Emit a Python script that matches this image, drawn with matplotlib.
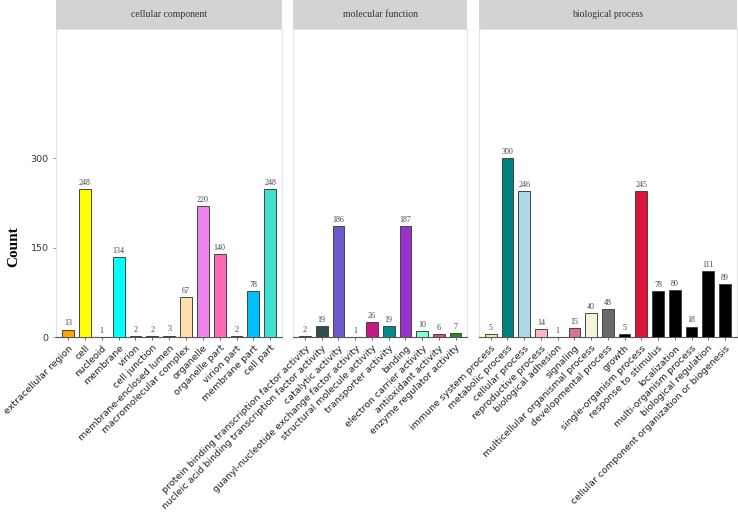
import matplotlib
matplotlib.use('Agg')
import matplotlib.pyplot as plt
from matplotlib.patches import Rectangle

W, H = 738, 513

panels = ['cellular component', 'molecular function', 'biological process']

cc_terms = ['extracellular region', 'cell', 'nucleoid', 'membrane', 'virion',
            'cell junction', 'membrane-enclosed lumen', 'macromolecular complex',
            'organelle', 'organelle part', 'virion part', 'membrane part', 'cell part']
cc_counts = [13, 248, 1, 134, 2, 2, 3, 67, 220, 140, 2, 78, 248]
cc_colors = ['#FFA500', '#FFFF00', '#3A3A2A', '#00FFFF', '#191970', '#3D1F4F',
             '#6B6B2F', '#FFDEAD', '#EE82EE', '#FF69B4', '#333333', '#00BFFF', '#40E0D0']

mf_terms = ['protein binding transcription factor activity',
            'nucleic acid binding transcription factor activity',
            'catalytic activity', 'guanyl-nucleotide exchange factor activity',
            'structural molecule activity', 'transporter activity', 'binding',
            'electron carrier activity', 'antioxidant activity', 'enzyme regulator activity']
mf_counts = [2, 19, 186, 1, 26, 19, 187, 10, 6, 7]
mf_colors = ['#6B2737', '#2F4F4F', '#6A5ACD', '#333333', '#C71585', '#008B8B',
             '#9932CC', '#7FFFD4', '#E0457B', '#228B22']

bp_terms = ['immune system process', 'metabolic process', 'cellular process',
            'reproductive process', 'biological adhesion', 'signaling',
            'multicellular organismal process', 'developmental process', 'growth',
            'single-organism process', 'response to stimulus', 'localization',
            'multi-organism process', 'biological regulation',
            'cellular component organization or biogenesis']
bp_counts = [5, 300, 246, 14, 1, 15, 40, 48, 5, 245, 78, 80, 18, 111, 89]
bp_colors = ['#F0E68C', '#008080', '#ADD8E6', '#FFB6C1', '#808080', '#DB7093',
             '#F5F5DC', '#696969', '#000000', '#DC143C', '#000000', '#000000',
             '#000000', '#000000', '#000000']

y_ticks = [0, 150, 300]

# panel pixel extents (left, right)
extents = [(56.3, 282), (293.3, 467.3), (479, 736.7)]
top_px, bottom_px, strip_px = 29, 337.3, 29

data = [(cc_terms, cc_counts, cc_colors),
        (mf_terms, mf_counts, mf_colors),
        (bp_terms, bp_counts, bp_colors)]

fig = plt.figure(figsize=(W / 100, H / 100), dpi=100)
fig.patch.set_facecolor('white')

for i, (name, (terms, counts, colors)) in enumerate(zip(panels, data)):
  l, r = extents[i]
  ax = fig.add_axes([l / W, 1 - bottom_px / H, (r - l) / W, (bottom_px - top_px) / H])
  x = list(range(len(terms)))
  ax.bar(x, counts, width=0.7, color=colors, edgecolor='#444444', linewidth=0.7, zorder=3)
  for xi, c in zip(x, counts):
    ax.annotate(str(c), (xi, c), xytext=(0, 1.5), textcoords='offset points',
                ha='center', va='bottom', fontsize=5.8, color='#444444',
                family='Liberation Serif')
  ax.set_xlim(-0.7, len(terms) - 1 + 0.7)
  ax.set_ylim(0, 517)
  ax.set_xticks(x)
  ax.set_xticklabels(terms, rotation=45, ha='right', rotation_mode='anchor',
                     fontsize=6.8, color='#222222')
  ax.tick_params(axis='x', length=2.5, width=0.6, color='#555555', pad=2)
  for side in ['top', 'left', 'right']:
    ax.spines[side].set_color('#E3E3E3')
    ax.spines[side].set_linewidth(0.8)
  ax.spines['bottom'].set_color('#555555')
  ax.spines['bottom'].set_linewidth(0.8)
  if i == 0:
    ax.set_yticks(y_ticks)
    ax.set_yticklabels([str(t) for t in y_ticks], fontsize=6.8, color='#333333')
    ax.tick_params(axis='y', length=2.5, width=0.6, color='#888888', pad=3)
  else:
    ax.set_yticks([])
  # strip
  sh = strip_px / (bottom_px - top_px)
  ax.add_patch(Rectangle((0, 1), 1, sh, transform=ax.transAxes, facecolor='#D3D3D3',
                         edgecolor='none', clip_on=False, zorder=1))
  ax.text(0.5, 1 + sh / 2, name, transform=ax.transAxes, ha='center', va='center',
          fontsize=7, color='#333333', family='Liberation Serif')

fig.text(14 / W, 1 - 247 / H, 'Count', rotation=90, ha='center', va='center',
         fontsize=11, fontweight='bold', family='Liberation Serif')

fig.savefig('out.png', dpi=100)
